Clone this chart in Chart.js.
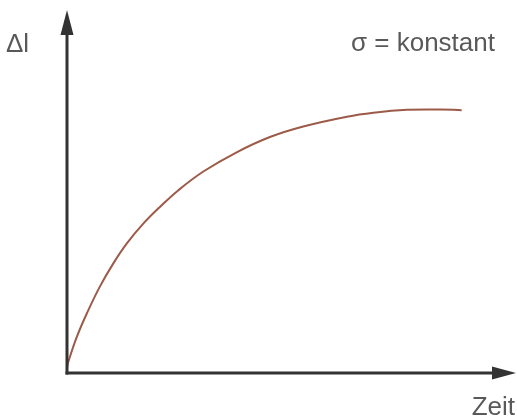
<!DOCTYPE html>
<html>
<head>
<meta charset="utf-8">
<script src="https://cdn.jsdelivr.net/npm/chart.js@4"></script>
<style>
  html, body { margin: 0; padding: 0; background: #fff; }
  canvas { display: block; }
</style>
</head>
<body>
<canvas id="chart" width="517" height="418"></canvas>
<script>
// creep curve: elongation over time at constant stress
const zeit = [0, 0.03, 0.22, 0.44, 0.73, 1.03, 1.33, 1.7, 2.07, 2.47, 3.03, 3.77, 4.51, 5.25, 6.22, 6.81, 7.55, 8.29, 8.77];
const dehnung = [0.15, 0.31, 1.0, 1.64, 2.38, 3.02, 3.57, 4.12, 4.58, 5.03, 5.55, 6.08, 6.5, 6.79, 7.06, 7.17, 7.25, 7.26, 7.24];
const xMax = 10;
const yMax = 10;

const axisColor = "#333333";
const textColor = "#595959";

// axes with arrowheads plus the free-standing labels
const arrowAxes = {
  id: "arrowAxes",
  afterDraw(chart) {
    const { ctx, chartArea } = chart;
    const x0 = chart.scales.x.getPixelForValue(0);
    const y0 = chart.scales.y.getPixelForValue(0);
    ctx.save();
    ctx.strokeStyle = axisColor;
    ctx.fillStyle = axisColor;
    ctx.lineWidth = 3;
    ctx.lineCap = "square";

    // y axis
    ctx.beginPath();
    ctx.moveTo(x0, y0);
    ctx.lineTo(x0, chartArea.top + 20);
    ctx.stroke();
    ctx.beginPath();
    ctx.moveTo(x0, chartArea.top);
    ctx.lineTo(x0 - 6.5, chartArea.top + 25);
    ctx.lineTo(x0 + 6.5, chartArea.top + 25);
    ctx.closePath();
    ctx.fill();

    // x axis
    ctx.beginPath();
    ctx.moveTo(x0, y0);
    ctx.lineTo(chartArea.right - 20, y0);
    ctx.stroke();
    ctx.beginPath();
    ctx.moveTo(chartArea.right - 1, y0);
    ctx.lineTo(chartArea.right - 25, y0 - 6.5);
    ctx.lineTo(chartArea.right - 25, y0 + 6.5);
    ctx.closePath();
    ctx.fill();

    ctx.fillStyle = textColor;
    ctx.font = "26px 'Liberation Sans', Arial, sans-serif";
    ctx.textBaseline = "alphabetic";
    ctx.textAlign = "left";
    ctx.fillText("Δl", 6, 52);
    ctx.fillText("σ = konstant", 351, 51);
    ctx.textAlign = "right";
    ctx.fillText("Zeit", 515, 415);
    ctx.restore();
  }
};

new Chart(document.getElementById("chart").getContext("2d"), {
  type: "line",
  data: {
    datasets: [
      {
        data: zeit.map((t, i) => ({ x: t, y: dehnung[i] })),
        borderColor: "#9c5a48",
        borderWidth: 2,
        pointRadius: 0,
        tension: 0.4,
        fill: false,
      },
    ],
  },
  options: {
    responsive: false,
    animation: false,
    layout: { padding: { left: 67, right: 0, top: 10, bottom: 45 } },
    plugins: { legend: { display: false }, tooltip: { enabled: false } },
    scales: {
      x: { type: "linear", min: 0, max: xMax, display: false },
      y: { type: "linear", min: 0, max: yMax, display: false },
    },
  },
  plugins: [arrowAxes],
});
</script>
</body>
</html>
